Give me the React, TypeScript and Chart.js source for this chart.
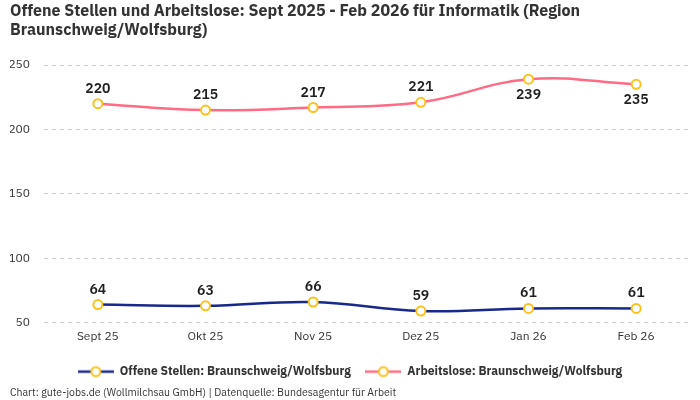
import { useEffect, useRef } from "react";
import Chart from "chart.js/auto";

const months = ["Sept 25", "Okt 25", "Nov 25", "Dez 25", "Jan 26", "Feb 26"];
const offeneStellen = [64, 63, 66, 59, 61, 61];
const arbeitslose = [220, 215, 217, 221, 239, 235];
const yTicks = [50, 100, 150, 200, 250];

const titleLines = [
  "Offene Stellen und Arbeitslose: Sept 2025 - Feb 2026 für Informatik (Region",
  "Braunschweig/Wolfsburg)",
];
const footerText = "Chart: gute-jobs.de (Wollmilchsau GmbH) | Datenquelle: Bundesagentur für Arbeit";

const BLUE = "#17298a";
const PINK = "#ff6b84";
const YELLOW = "#fcc21b";
const FONT = "'IBM Plex Sans', Roboto, 'Noto Sans', sans-serif";

// line + ring marker for the legend
function legendMarker(color: string) {
  const c = document.createElement("canvas");
  c.width = 36;
  c.height = 14;
  const ctx = c.getContext("2d")!;
  ctx.strokeStyle = color;
  ctx.lineWidth = 2.5;
  ctx.beginPath();
  ctx.moveTo(0, 7);
  ctx.lineTo(36, 7);
  ctx.stroke();
  ctx.beginPath();
  ctx.arc(18, 7, 4.5, 0, Math.PI * 2);
  ctx.fillStyle = "#fff";
  ctx.fill();
  ctx.strokeStyle = YELLOW;
  ctx.lineWidth = 2;
  ctx.stroke();
  return c;
}

const valueLabels = {
  id: "valueLabels",
  afterDatasetsDraw(chart: any) {
    const { ctx, chartArea } = chart;
    ctx.save();
    ctx.font = `600 14px ${FONT}`;
    ctx.fillStyle = "#1f1f1f";
    ctx.textAlign = "center";
    ctx.textBaseline = "middle";
    chart.data.datasets.forEach((ds: any, i: number) => {
      const meta = chart.getDatasetMeta(i);
      meta.data.forEach((pt: any, j: number) => {
        const above = pt.y - 26 > chartArea.top;
        ctx.fillText(String(ds.data[j]), pt.x, above ? pt.y - 15 : pt.y + 16);
      });
    });
    ctx.restore();
  },
};

// source line, drawn in the space under the legend
const footer = {
  id: "footer",
  afterDraw(chart: any) {
    const { ctx } = chart;
    ctx.save();
    ctx.font = `10.5px ${FONT}`;
    ctx.fillStyle = "#333";
    ctx.textAlign = "left";
    ctx.textBaseline = "middle";
    ctx.fillText(footerText, 10, 393);
    ctx.restore();
  },
};

export default function App() {
  const chartRef = useRef<HTMLCanvasElement>(null);

  useEffect(() => {
    document.body.style.margin = "0";
    if (!chartRef.current) return;

    const markers = [legendMarker(BLUE), legendMarker(PINK)];

    const chart = new Chart(chartRef.current, {
      type: "line",
      data: {
        labels: months,
        datasets: [
          {
            label: "Offene Stellen: Braunschweig/Wolfsburg",
            data: offeneStellen,
            borderColor: BLUE,
            borderWidth: 2.5,
            tension: 0.4,
            pointRadius: 4.5,
            pointBorderWidth: 2,
            pointBorderColor: YELLOW,
            pointBackgroundColor: "#fff",
          },
          {
            label: "Arbeitslose: Braunschweig/Wolfsburg",
            data: arbeitslose,
            borderColor: PINK,
            borderWidth: 2.5,
            tension: 0.4,
            pointRadius: 4.5,
            pointBorderWidth: 2,
            pointBorderColor: YELLOW,
            pointBackgroundColor: "#fff",
          },
        ],
      },
      options: {
        animation: false,
        responsive: true,
        maintainAspectRatio: false,
        layout: { padding: { left: 10, right: 10, top: 2, bottom: 12.4 } },
        plugins: {
          title: {
            display: true,
            text: titleLines,
            align: "start",
            color: "#333",
            font: { family: FONT, size: 16, weight: "bold", lineHeight: 1.2 },
            padding: { top: 0, bottom: 24.6 },
          },
          legend: {
            position: "bottom",
            labels: {
              usePointStyle: true,
              pointStyleWidth: 36,
              padding: 14.6,
              color: "#333",
              font: { family: FONT, size: 12, weight: "bold" },
              generateLabels: (c: any) =>
                c.data.datasets.map((ds: any, i: number) => ({
                  text: ds.label,
                  fontColor: "#333",
                  pointStyle: markers[i],
                  datasetIndex: i,
                  hidden: false,
                  lineWidth: 0,
                })),
            },
          },
          tooltip: { enabled: false },
        },
        scales: {
          x: {
            offset: true,
            grid: { display: false, drawTicks: false },
            border: { display: false },
            ticks: { color: "#333", font: { family: FONT, size: 12 }, padding: 7 },
          },
          y: {
            min: 50,
            max: 250,
            afterBuildTicks: (axis: any) => {
              axis.ticks = yTicks.map((v) => ({ value: v }));
            },
            afterFit: (axis: any) => {
              axis.width = 34;
            },
            grid: { color: "#cfcfcf", drawTicks: false },
            border: { display: false, dash: [4, 4] },
            ticks: { color: "#333", font: { family: FONT, size: 12 }, padding: 14 },
          },
        },
      },
      plugins: [valueLabels, footer],
    });

    return () => chart.destroy();
  }, []);

  return (
    <div style={{ width: 700, height: 400, position: "relative" }}>
      <canvas ref={chartRef} role="img" aria-label="Offene Stellen und Arbeitslose Informatik Braunschweig/Wolfsburg" />
    </div>
  );
}
